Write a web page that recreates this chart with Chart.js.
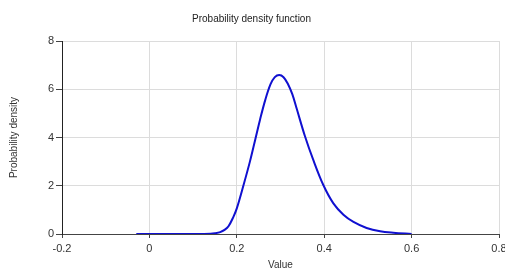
<!DOCTYPE html>
<html>
<head>
<meta charset="utf-8">
<script src="https://cdn.jsdelivr.net/npm/chart.js@4.4.1/dist/chart.umd.min.js"></script>
<style>
  html, body { margin: 0; padding: 0; background: #fff; }
  #wrap { width: 505px; height: 270px; }
</style>
</head>
<body>
<div id="wrap"><canvas id="chart" width="505" height="270"></canvas></div>
<script>
// values
const xValues = [-0.03, 0, 0.05, 0.1, 0.14, 0.15, 0.162, 0.172, 0.181, 0.192, 0.2, 0.215, 0.23,
  0.242, 0.253, 0.265, 0.277, 0.287, 0.297, 0.307, 0.317, 0.327, 0.337, 0.356, 0.375, 0.398,
  0.421, 0.444, 0.467, 0.497, 0.528, 0.558, 0.6];
const densityValues = [0, 0, 0, 0, 0.01, 0.03, 0.08, 0.17, 0.32, 0.7, 1.06, 2.0, 3.0,
  3.9, 4.73, 5.55, 6.2, 6.5, 6.59, 6.5, 6.22, 5.8, 5.2, 4.05, 3.07, 2.03,
  1.27, 0.8, 0.5, 0.25, 0.11, 0.05, 0];
const xTicks = [-0.2, 0, 0.2, 0.4, 0.6, 0.8];
const yTicks = [0, 2, 4, 6, 8];

const points = xValues.map((x, i) => ({ x: x, y: densityValues[i] }));
const font = "'Liberation Sans', Arial, sans-serif";

new Chart(document.getElementById("chart"), {
  type: "line",
  data: {
    datasets: [{
      data: points,
      borderColor: "#1010d0",
      borderWidth: 2,
      pointRadius: 0,
      fill: false,
      tension: 0.35
    }]
  },
  options: {
    responsive: false,
    animation: false,
    layout: { padding: { left: 4, right: 6, top: 0, bottom: 0 } },
    plugins: {
      legend: { display: false },
      tooltip: { enabled: false },
      title: {
        display: true,
        text: "Probability density function",
        color: "#222",
        font: { family: font, size: 10, weight: "normal" },
        padding: { top: 13, bottom: 16 }
      }
    },
    scales: {
      x: {
        type: "linear",
        min: -0.2,
        max: 0.8,
        afterBuildTicks: (s) => { s.ticks = xTicks.map(v => ({ value: v })); },
        afterFit: (s) => { s.paddingLeft = 0; s.paddingRight = 0; s.height = 36; },
        ticks: {
          color: "#333",
          font: { family: font, size: 11 },
          padding: 4,
          maxRotation: 0,
          callback: (v) => String(Math.round(v * 10) / 10)
        },
        grid: { color: "#dcdcdc", tickColor: "#444", tickLength: 4 },
        border: { color: "#444", width: 1 },
        title: {
          display: true,
          text: "Value",
          color: "#333",
          font: { family: font, size: 10 },
          padding: { top: 1, bottom: -1 }
        }
      },
      y: {
        min: 0,
        max: 8,
        afterBuildTicks: (s) => { s.ticks = yTicks.map(v => ({ value: v })); },
        afterFit: (s) => { s.width = 58; },
        ticks: {
          color: "#333",
          font: { family: font, size: 11 },
          padding: 2
        },
        grid: { color: "#dcdcdc", tickColor: "#444", tickLength: 6 },
        border: { color: "#222", width: 1 },
        title: {
          display: true,
          text: "Probability density",
          color: "#333",
          font: { family: font, size: 10 },
          padding: { top: 4, bottom: 6 }
        }
      }
    }
  }
});
</script>
</body>
</html>
